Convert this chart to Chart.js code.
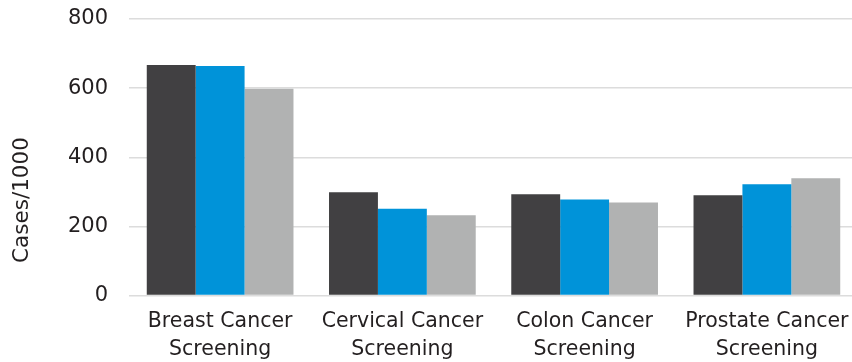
<!DOCTYPE html>
<html>
<head>
<meta charset="utf-8">
<script src="https://cdn.jsdelivr.net/npm/chart.js@4/dist/chart.umd.min.js"></script>
<style>
  html, body { margin: 0; padding: 0; background: #ffffff; overflow: hidden; }
  #wrap { width: 860px; height: 362px; position: relative; }
</style>
</head>
<body>
<div id="wrap"><canvas id="c"></canvas></div>
<script>
const categories = [
  ['Breast Cancer', 'Screening'],
  ['Cervical Cancer', 'Screening'],
  ['Colon Cancer', 'Screening'],
  ['Prostate Cancer', 'Screening']
];
const seriesDark = [667, 299, 293, 290];
const seriesBlue = [664, 251, 278, 322];
const seriesGray = [598, 232, 269, 339];
const yTicks = [0, 200, 400, 600, 800];
const yTitle = 'Cases/1000';

const FONT = 'DejaVu Sans';
const TEXT = '#231f20';

const yTitlePlugin = {
  id: 'yTitle',
  afterDraw(chart) {
    const ctx = chart.ctx;
    ctx.save();
    ctx.translate(22, 200);
    ctx.rotate(-Math.PI / 2);
    ctx.font = '21.5px "' + FONT + '"';
    ctx.fillStyle = TEXT;
    ctx.textAlign = 'center';
    ctx.textBaseline = 'middle';
    ctx.fillText(yTitle, 0, 0);
    ctx.restore();
  }
};

new Chart(document.getElementById('c'), {
  type: 'bar',
  data: {
    labels: categories,
    datasets: [
      { data: seriesDark, backgroundColor: '#414042' },
      { data: seriesBlue, backgroundColor: '#0093d9' },
      { data: seriesGray, backgroundColor: '#b1b2b2' }
    ]
  },
  options: {
    responsive: true,
    maintainAspectRatio: false,
    animation: false,
    layout: { padding: { top: 19, left: 0, right: 2, bottom: 0 } },
    plugins: { legend: { display: false }, tooltip: { enabled: false } },
    datasets: { bar: { categoryPercentage: 0.805, barPercentage: 1.0 } },
    scales: {
      x: {
        grid: { display: false, drawTicks: false },
        border: { display: false },
        ticks: {
          color: TEXT,
          font: { family: FONT, size: 20.5, lineHeight: 1.36 },
          padding: 12,
          maxRotation: 0,
          autoSkip: false
        },
        afterFit(scale) {
          scale.height = 66.5;
          scale.paddingLeft = 0; scale.paddingRight = 0;
        }
      },
      y: {
        min: 0,
        max: 800,
        afterBuildTicks(scale) { scale.ticks = yTicks.map(v => ({ value: v })); },
        grid: { color: '#dcdcdc', lineWidth: 1.5, drawTicks: false },
        border: { display: false },
        ticks: {
          color: TEXT,
          font: { family: FONT, size: 21 },
          padding: 21
        },
        afterFit(scale) {
          scale.width = 129;
          scale.paddingTop = 0; scale.paddingBottom = 0;
        }
      }
    }
  },
  plugins: [yTitlePlugin]
});
</script>
</body>
</html>
